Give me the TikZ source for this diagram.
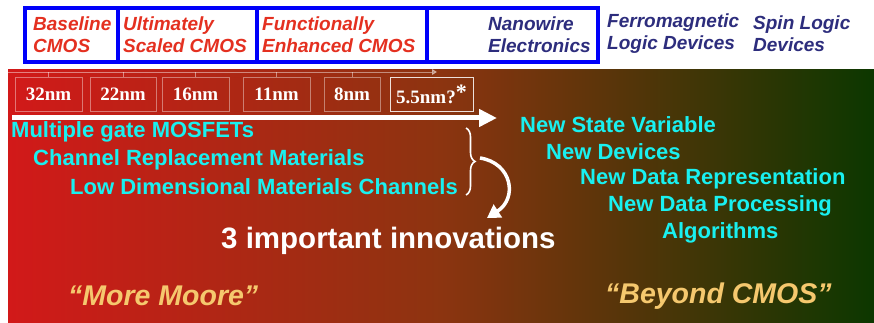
\documentclass[tikz,border=0pt]{standalone}
\usepackage{fontspec}
\setmainfont{Liberation Sans}
\newfontfamily\serifb{Liberation Serif}
\usetikzlibrary{decorations.pathreplacing,arrows.meta}
\definecolor{topred}{RGB}{228,48,32}
\definecolor{navytxt}{RGB}{45,45,125}
\definecolor{cyantxt}{RGB}{25,240,240}
\definecolor{mooretxt}{RGB}{245,200,110}
\definecolor{gleft}{RGB}{210,25,25}
\definecolor{gmid}{RGB}{140,52,16}
\definecolor{gright}{RGB}{12,55,0}
\definecolor{boxblue}{RGB}{0,0,250}
\begin{document}
\begin{tikzpicture}[x=1pt,y=1pt,
  hdr/.style={font=\fontsize{19}{22}\selectfont\bfseries\itshape, align=left, anchor=west, inner sep=0},
  redhdr/.style={hdr, text=topred},
  bluehdr/.style={hdr, text=navytxt},
  nmbox/.style={draw=white, draw opacity=0.4, line width=0.9, text=white, font=\serifb\fontsize{19}{19}\selectfont\bfseries, minimum height=34, inner sep=0},
  cyanline/.style={text=cyantxt, font=\fontsize{22}{22}\selectfont\bfseries, anchor=west, inner sep=0},
  quote/.style={text=mooretxt, font=\fontsize{28.5}{28.5}\selectfont\bfseries\itshape, anchor=west, inner sep=0},
  tick/.style={white, opacity=0.45, line width=0.9}
]
\useasboundingbox (0,0) rectangle (874,323);
\fill[white] (0,0) rectangle (874,323);
% gradient panel
\shade[left color=gleft, right color=gright, middle color=gmid] (8,0) rectangle (874,253);
% blue header boxes
\draw[boxblue, line width=4] (25,261) rectangle (598,315);
\draw[boxblue, line width=4] (118,261) -- (118,315);
\draw[boxblue, line width=4] (257,261) -- (257,315);
\draw[boxblue, line width=4] (427,261) -- (427,315);
\node[redhdr] (h1) at (33,288) {Baseline\\CMOS};
\node[redhdr] (h2) at (123,288) {Ultimately\\Scaled CMOS};
\node[redhdr] (h3) at (262,288) {Functionally\\Enhanced CMOS};
\node[bluehdr] (h4) at (488,288) {Nanowire\\Electronics};
\node[bluehdr] (h5) at (607,289) {Ferromagnetic\\Logic Devices};
\node[bluehdr] (h6) at (753,289) {Spin Logic\\Devices};
% node boxes
\coordinate (tl) at (8,251);
\coordinate (te) at (437,251);
\draw[tick, -{Triangle[length=5pt,width=6pt]}] (tl) -- (te);
\node[nmbox, minimum width=67] (n32) at (48.5,229) {32nm};
\node[nmbox, minimum width=66] (n22) at (123,229) {22nm};
\node[nmbox, minimum width=67] (n16) at (195.5,229) {16nm};
\node[nmbox, minimum width=67] (n11) at (276.5,229) {11nm};
\node[nmbox, minimum width=56] (n8) at (352,229) {8nm};
\node[nmbox, draw opacity=0.85, minimum width=83] (n55) at (431.5,229) {5.5nm?\raisebox{4pt}{\fontsize{22}{22}\selectfont*}};
\foreach \n in {n32,n22,n16,n11,n8} \draw[tick] (\n.north) -- (\n.north |- tl);
% main arrow
\coordinate (as) at (12,205);
\coordinate (ae) at (497,205);
\draw[white, line width=5, -{Triangle[length=18pt,width=17pt]}] (as) -- (ae);
% left list
\node[cyanline] (l1) at (11,191) {Multiple gate MOSFETs};
\node[cyanline] (l2) at (33,163) {Channel Replacement Materials};
\node[cyanline] (l3) at (70,136) {Low Dimensional Materials Channels};
% brace and curved arrow
\coordinate (bt) at (466,195);
\coordinate (bb) at (466,128);
\draw[white, line width=1.6, decorate, decoration={brace, amplitude=9pt}] (bt) -- (bb);
\coordinate (cs) at (480,165);
\coordinate (ce) at (487,105);
\draw[white, line width=3.5, -{Triangle[length=13pt,width=15pt]}] (cs) .. controls (512,160) and (518,125) .. (ce);
\node[text=white, font=\fontsize{29.5}{29.5}\selectfont\bfseries, anchor=west, inner sep=0] (inn) at (221,82) {3 important innovations};
% right list
\node[cyanline] (r1) at (520,198) {New State Variable};
\node[cyanline] (r2) at (546,171) {New Devices};
\node[cyanline] (r3) at (580,144) {New Data Representation};
\node[cyanline] (r4) at (608,117) {New Data Processing};
\node[cyanline] (r5) at (662,90) {Algorithms};
% bottom labels
\node[quote] (mm) at (68,27) {“More Moore”};
\node[quote] (bc) at (605,27) {“Beyond CMOS”};
\end{tikzpicture}
\end{document}
